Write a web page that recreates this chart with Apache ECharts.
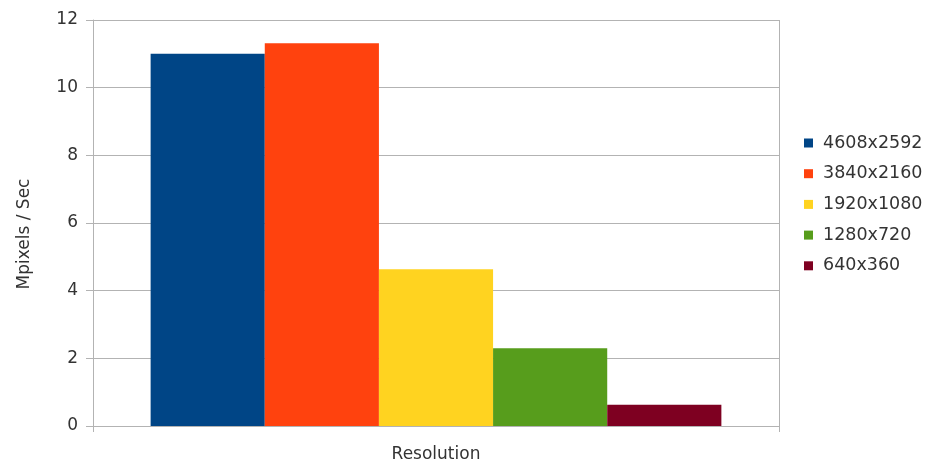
<!DOCTYPE html>
<html><head><meta charset="utf-8">
<script src="https://cdn.jsdelivr.net/npm/echarts@6/dist/echarts.min.js"></script>
<style>html,body{margin:0;padding:0;background:#fff;overflow:hidden}#c{width:928px;height:463px}</style>
</head><body><div id="c"></div>
<script>
var categories = ['Resolution'];
var seriesNames = ['4608x2592', '3840x2160', '1920x1080', '1280x720', '640x360'];
var seriesValues = [[11.0], [11.31], [4.63], [2.3], [0.63]];
var colors = ['#004586', '#ff420e', '#ffd320', '#579d1c', '#7e0021'];
var yTicks = [0, 2, 4, 6, 8, 10, 12];

var font = 'DejaVu Sans, sans-serif';
var chart = echarts.init(document.getElementById('c'), null, {width: 928, height: 463});
chart.setOption({
  animation: false,
  textStyle: {fontFamily: font},
  grid: {left: 93, width: 686, top: 20, height: 406, containLabel: false, outerBoundsMode: 'none'},
  legend: {
    orient: 'vertical', left: 799, top: 129,
    itemWidth: 9, itemHeight: 9, itemGap: 12.7,
    icon: 'rect',
    data: seriesNames,
    textStyle: {fontSize: 17.5, color: '#333', fontFamily: font, padding: [0, 0, 0, 5]}
  },
  xAxis: {
    type: 'category', data: categories,
    name: 'Resolution', nameLocation: 'middle', nameGap: 20,
    nameTextStyle: {fontSize: 17, color: '#333', fontFamily: font},
    axisLabel: {show: false},
    axisLine: {lineStyle: {color: '#b3b3b3'}},
    axisTick: {show: true, length: 6, lineStyle: {color: '#b3b3b3'}},
    splitLine: {show: true, lineStyle: {color: '#b3b3b3'}}
  },
  yAxis: {
    type: 'value', min: yTicks[0], max: yTicks[yTicks.length - 1], interval: 2,
    name: 'Mpixels / Sec', nameLocation: 'middle', nameGap: 60,
    nameTextStyle: {fontSize: 17, color: '#333', fontFamily: font, padding: [0, 22, 0, 0]},
    axisLine: {show: true, lineStyle: {color: '#b3b3b3'}},
    axisTick: {show: true, length: 7, lineStyle: {color: '#b3b3b3'}},
    axisLabel: {fontSize: 17, color: '#333', margin: 15, fontFamily: font},
    splitLine: {lineStyle: {color: '#b3b3b3'}}
  },
  series: seriesNames.map(function (n, i) {
    return {
      type: 'bar', name: n, data: seriesValues[i],
      itemStyle: {color: colors[i]},
      barGap: '0%', barCategoryGap: '16.8%'
    };
  })
});
</script></body></html>
